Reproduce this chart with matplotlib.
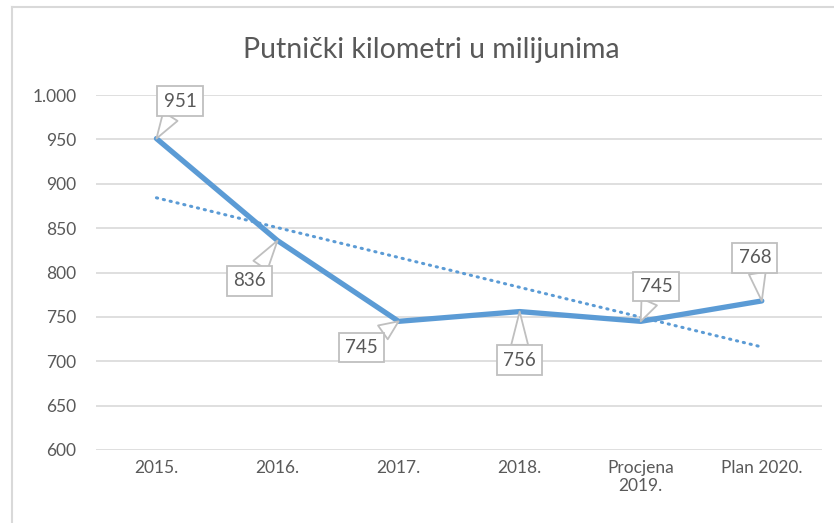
import numpy as np
import matplotlib.pyplot as plt
from matplotlib.lines import Line2D

plt.rcParams['font.family'] = ['Lato', 'DejaVu Sans']

# podaci
kategorije = ['2015.', '2016.', '2017.', '2018.', 'Procjena\n2019.', 'Plan 2020.']
vrijednosti = [951, 836, 745, 756, 745, 768]
# pomaci oznaka (točke)
pomaci = [(17, 27), (-20, -29), (-27, -19), (0, -35), (11, 25), (-5, 31)]

plava = '#5b9bd5'
siva = '#595959'

fig = plt.figure(figsize=(8.34, 5.23), dpi=100)
ax = fig.add_axes([0.115, 0.1396, 0.871, 0.6786])

x = np.arange(len(vrijednosti))
ax.plot(x, vrijednosti, color=plava, linewidth=3.8, solid_capstyle='round', zorder=3)

# linearni trend
k, n = np.polyfit(x, vrijednosti, 1)
ax.plot(x, k * x + n, color=plava, linewidth=2.2, linestyle=(0, (0.4, 1.9)),
        dash_capstyle='round', zorder=2)

for xi, yi, (dx, dy) in zip(x, vrijednosti, pomaci):
    ax.annotate(str(yi), xy=(xi, yi), xytext=(dx, dy), textcoords='offset points',
                ha='center', va='center', fontsize=13.5, color=siva,
                bbox=dict(boxstyle='square,pad=0.33', fc='white', ec='#bfbfbf', lw=1.3),
                arrowprops=dict(arrowstyle='wedge,tail_width=0.9,shrink_factor=0.5',
                                fc='white', ec='#bfbfbf', lw=1.3, shrinkA=0, shrinkB=0),
                zorder=5)

ax.set_xlim(-0.5, len(vrijednosti) - 0.5)
ax.set_ylim(600, 1000)
ax.set_yticks(np.arange(600, 1001, 50))
ax.set_yticklabels([f'{v:,}'.replace(',', '.') for v in range(600, 1001, 50)])
ax.set_xticks(x)
ax.set_xticklabels(kategorije)
ax.tick_params(axis='both', length=0, labelsize=12.5, labelcolor=siva)
ax.tick_params(axis='y', pad=14)
ax.tick_params(axis='x', pad=7)
ax.grid(axis='y', color='#d9d9d9', linewidth=1.2)
ax.set_axisbelow(True)
for s in ax.spines.values():
    s.set_visible(False)

fig.text(0.517, 0.905, 'Putnički kilometri u milijunima', ha='center', va='center',
         fontsize=20.5, color=siva)

# okvir grafikona
fig.add_artist(Line2D([11.5 / 834, 11.5 / 834], [0, 1 - 7 / 523], transform=fig.transFigure,
                      color='#d9d9d9', lw=1.5))
fig.add_artist(Line2D([11.5 / 834, 1], [1 - 7 / 523, 1 - 7 / 523], transform=fig.transFigure,
                      color='#d9d9d9', lw=1.5))

fig.savefig('out.png', dpi=100)
